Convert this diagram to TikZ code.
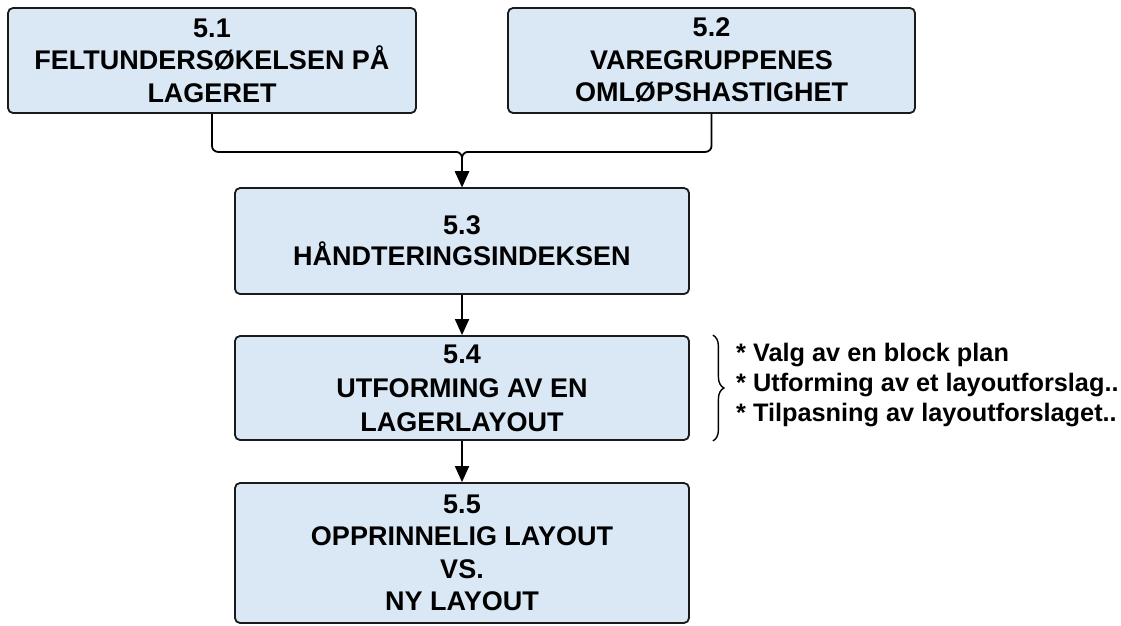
\documentclass[tikz,border=0pt]{standalone}
\usepackage{fontspec}
\setmainfont{Liberation Sans}
\usetikzlibrary{arrows.meta, decorations.pathreplacing}

\definecolor{boxfill}{HTML}{DAE8F6}
\definecolor{boxline}{HTML}{1A1A1A}

\tikzset{
  stepbox/.style={draw=boxline, fill=boxfill, line width=1.8pt,
    rounded corners=5pt, align=center, inner sep=0pt,
    font=\bfseries\fontsize{27}{32.5}\selectfont},
  conn/.style={line width=1.8pt, draw=black, rounded corners=6pt,
    -{Triangle[length=16pt, width=14pt]}},
  notes/.style={align=left, anchor=west, inner sep=0pt,
    font=\bfseries\fontsize{25.3}{30.3}\selectfont},
  bracket/.style={line width=1.4pt, decorate,
    decoration={brace, amplitude=11pt}}
}

\begin{document}
\begin{tikzpicture}[x=1pt, y=-1pt]
  \useasboundingbox (0,0) rectangle (1121,625);

  % process steps
  \node[stepbox, minimum width=408pt, minimum height=105pt] (b1) at (212,60.5)
    {5.1\\FELTUNDERSØKELSEN PÅ\\LAGERET};
  \node[stepbox, minimum width=407pt, minimum height=105pt] (b2) at (711.5,60.5)
    {5.2\\VAREGRUPPENES\\OMLØPSHASTIGHET};
  \node[stepbox, minimum width=454pt, minimum height=106pt,
    font=\bfseries\fontsize{27}{31}\selectfont] (b3) at (462,241)
    {5.3\\HÅNDTERINGSINDEKSEN};
  \node[stepbox, minimum width=454pt, minimum height=104pt,
    font=\bfseries\fontsize{27}{34}\selectfont] (b4) at (462,388)
    {5.4\\UTFORMING AV EN\\LAGERLAYOUT};
  \node[stepbox, minimum width=454pt, minimum height=140pt] (b5) at (462,553)
    {5.5\\OPPRINNELIG LAYOUT\\VS.\\NY LAYOUT};

  % merging connectors into 5.3
  \draw[conn] (b1.south) -- ++(0,38) -| (b3.north);
  \draw[conn] (b2.south) -- ++(0,38) -| (b3.north);

  % straight connectors
  \draw[conn] (b3.south) -- (b4.north);
  \draw[conn] (b4.south) -- (b5.north);

  % sub-steps of 5.4
  \draw[bracket] ([xshift=23pt]b4.north east) -- ([xshift=23pt]b4.south east);
  \node[notes] (sub) at (736,385)
    {* Valg av en block plan\\* Utforming av et layoutforslag..\\* Tilpasning av layoutforslaget..};
\end{tikzpicture}
\end{document}
